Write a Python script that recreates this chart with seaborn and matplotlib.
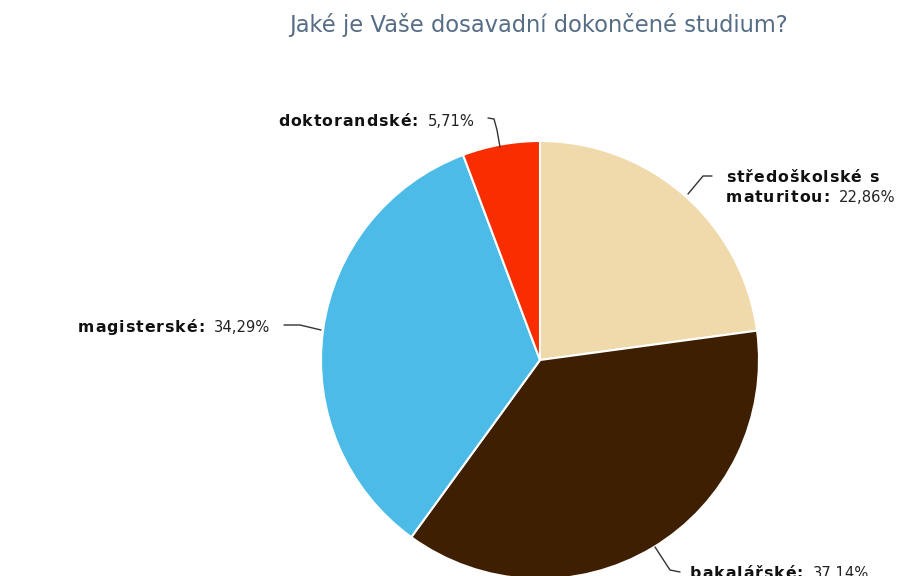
import matplotlib
matplotlib.use("Agg")
import matplotlib.pyplot as plt
import seaborn as sns
from matplotlib.font_manager import FontProperties, findfont
from matplotlib.ft2font import FT2Font

# Survey answers, listed clockwise from 12 o'clock
categories = ["středoškolské s\nmaturitou", "bakalářské", "magisterské", "doktorandské"]
values = [22.86, 37.14, 34.29, 5.71]
colors = ["#F0D9AA", "#3E1F02", "#4DBBE8", "#F92D00"]
title = "Jaké je Vaše dosavadní dokončené studium?"

sns.set_theme(style="white")
plt.rcParams["font.family"] = ["DejaVu Sans"]

W, H = 918, 576
DPI = 100
fig = plt.figure(figsize=(W / DPI, H / DPI), dpi=DPI)
fig.patch.set_facecolor("white")
ax = fig.add_axes([0, 0, 1, 1])

cx, cy, r = 540, H - 360, 219
ax.pie(values, colors=colors, startangle=90, counterclock=False,
       center=(cx, cy), radius=r,
       wedgeprops=dict(edgecolor="white", linewidth=1.5))
ax.set_xlim(0, W)
ax.set_ylim(0, H)
ax.set_aspect("equal")
ax.axis("off")

ax.text(538, H - 25, title, ha="center", va="center", fontsize=16.3,
        color="#566D86")

NAME_SIZE = 11.3
VALUE_SIZE = 10.6
TRACKING = 0.9  # extra pixels between letters of the bold names
HINT = plt.rcParams["text.hinting_factor"]

bold_font = FT2Font(findfont(FontProperties(family="DejaVu Sans", weight="bold")))


def advance(ch, size):
    bold_font.set_size(size, DPI)
    g = bold_font.load_char(ord(ch))
    return g.horiAdvance / 64.0 / HINT


def spaced_text(x, y, s, size, tracking):
    """Draw bold text letter by letter with extra tracking; return end x."""
    for ch in s:
        ax.text(x, y, ch, ha="left", va="baseline", fontsize=size,
                fontweight="bold", color="#111111")
        x += advance(ch, size) + tracking
    return x - tracking


def fmt(v):
    return f"{v:.2f}".replace(".", ",") + "%"


# label anchor (left x, baseline y of first line in pixels from top) and leader lines
label_pos = [(726, 182), (690, 578), (78, 332), (278, 126)]
leaders = [
    [(688, 194), (703, 176), (712, 176)],
    [(655, 547), (670, 570), (680, 572)],
    [(284, 325), (300, 325), (321, 330)],
    [(488, 118), (494, 119), (497, 130), (500, 147)],
]

for cat, val, (lx, ly), pts in zip(categories, values, label_pos, leaders):
    xs = [p[0] for p in pts]
    ys = [H - p[1] for p in pts]
    ax.plot(xs, ys, color="#333333", lw=1.0, solid_capstyle="round")
    lines = cat.split("\n")
    for i, line in enumerate(lines):
        y = H - ly - i * 20
        last = i == len(lines) - 1
        name = line + (":" if last else "")
        x_end = spaced_text(lx, y, name, NAME_SIZE, TRACKING)
        if last:
            ax.text(x_end + 10, y, fmt(val), ha="left", va="baseline",
                    fontsize=VALUE_SIZE, color="#222222")

fig.savefig("out.png", dpi=DPI, facecolor="white")
